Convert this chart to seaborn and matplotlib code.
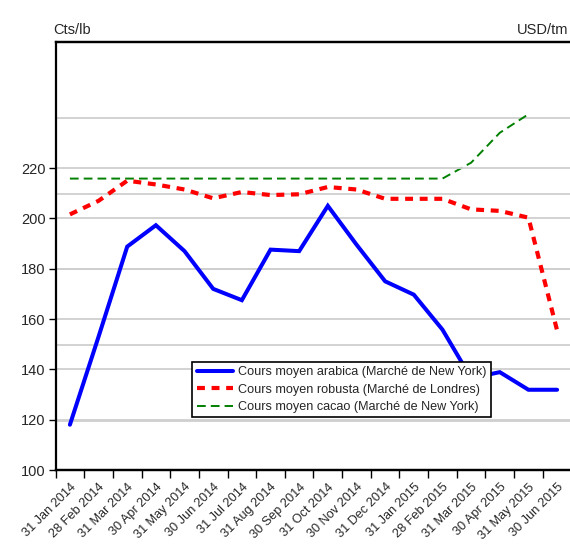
import numpy as np
import pandas as pd
import matplotlib
matplotlib.use("Agg")
import matplotlib.pyplot as plt
import seaborn as sns

months = ["31 Jan 2014", "28 Feb 2014", "31 Mar 2014", "30 Apr 2014", "31 May 2014",
          "30 Jun 2014", "31 Jul 2014", "31 Aug 2014", "30 Sep 2014", "31 Oct 2014",
          "30 Nov 2014", "31 Dec 2014", "31 Jan 2015", "28 Feb 2015", "31 Mar 2015",
          "30 Apr 2015", "31 May 2015", "30 Jun 2015"]
arabica = [118, 153, 188.8, 197.3, 187, 172, 167.5, 187.6, 187, 205,
           189.6, 175, 169.7, 155.8, 136.5, 138.9, 131.9, 131.9]
robusta = [201.6, 207, 215, 213.5, 211.5, 208, 210.5, 209.3, 209.6, 212.5,
           211.5, 207.8, 207.8, 207.8, 203.6, 203, 200.3, 155.5]
# cacao on the right axis (USD/tm)
cacao = [2640, 2640, 2640, 2640, 2640, 2640, 2640, 2640, 2640, 2640,
         2640, 2640, 2640, 2640, 2682, 2761, 2810, np.nan]

df = pd.DataFrame({"x": range(len(months)), "arabica": arabica,
                   "robusta": robusta, "cacao": cacao})

sns.set_style("white")
plt.rcParams['font.family'] = ['Liberation Sans', 'DejaVu Sans']

fig = plt.figure(figsize=(5.7, 5.54), dpi=100)
ax = fig.add_axes([0.0975, 0.1516, 0.905, 0.772])
ax2 = ax.twinx()

grid_c = "#cfcfcf"
ax.set_ylim(100, 270)
ax.set_yticks([100, 120, 140, 160, 180, 200, 220])
for v in [120, 140, 160, 180, 200, 220]:
    ax.axhline(v, color=grid_c, lw=1.3, zorder=0)
ax2.set_ylim(1870, 3000)
ax2.set_yticks([])
for v in [2000, 2200, 2400, 2600, 2800]:
    ax2.axhline(v, color=grid_c, lw=1.3, zorder=0)

l1, = ax.plot(df["x"], df["arabica"], color="#0000ff", lw=2.9, solid_joinstyle="miter",
              label="Cours moyen arabica (Marché de New York)")
sns.lineplot(x="x", y="robusta", data=df, ax=ax, color="#ff0000", lw=3)
l2 = ax.lines[-1]
l2.set_dashes([1.9, 1.6])
l2.set_label("Cours moyen robusta (Marché de Londres)")
sns.lineplot(x="x", y="cacao", data=df, ax=ax2, color="#008000", lw=1.4)
l3 = ax2.lines[-1]
l3.set_dashes([4.5, 2.6])
l3.set_label("Cours moyen cacao (Marché de New York)")

ax.set_xlim(-0.5, 17.5)
ax.set_xticks(np.arange(-0.5, 17.0, 1.0))
ax.set_xticklabels([])
ax.set_xticks(range(len(months)), minor=True)
ax.set_xticklabels(months, minor=True, rotation=45, ha="right",
                   rotation_mode="anchor", fontsize=9.2)
ax.tick_params(axis="x", which="major", length=6, width=1, color="black", direction="out", bottom=True)
ax.tick_params(axis="x", which="minor", length=0, pad=8)
ax.tick_params(axis="y", length=5, width=1, color="black", direction="out", left=True, labelsize=10.5, pad=2)
ax.set_xlabel("")
ax.set_ylabel("")
ax2.set_ylabel("")

for a in (ax, ax2):
    a.spines["right"].set_visible(False)
    for s in ("left", "bottom", "top"):
        a.spines[s].set_color("black")
        a.spines[s].set_linewidth(1.6)
ax2.spines["left"].set_visible(False)

ax.set_zorder(ax2.get_zorder() + 1)
ax.patch.set_visible(False)

leg = ax.legend(handles=[l1, l2, l3], loc="upper left", bbox_to_anchor=(0.265, 0.2525),
                borderaxespad=0, frameon=True, fancybox=False, framealpha=1, fontsize=9.1,
                handlelength=2.9, handletextpad=0.4, labelspacing=0.42,
                borderpad=0.35, edgecolor="black", facecolor="white")
leg.get_frame().set_linewidth(1.2)
leg.set_zorder(10)

fig.text(0.093, 0.934, "Cts/lb", fontsize=10.5, ha="left", va="bottom")
fig.text(0.997, 0.934, "USD/tm", fontsize=10.5, ha="right", va="bottom")

fig.savefig("out.png", dpi=100)
